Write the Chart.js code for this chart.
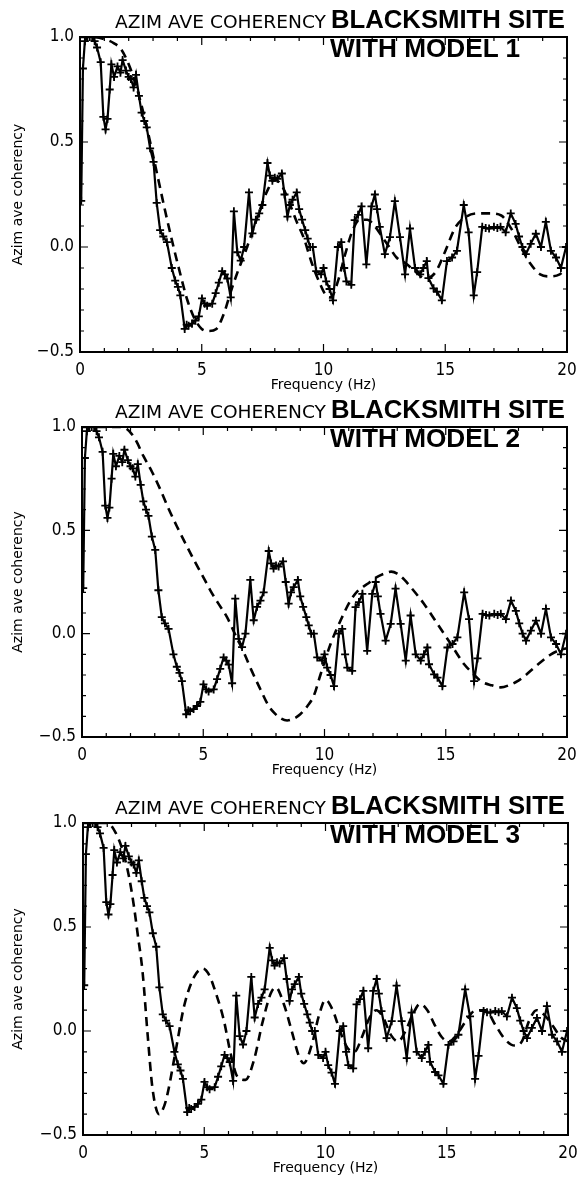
<!DOCTYPE html>
<html><head><meta charset="utf-8">
<script src="https://cdn.jsdelivr.net/npm/chart.js@4.4.0/dist/chart.umd.min.js"></script>
<style>
html,body{margin:0;padding:0;background:#fff;}
body{width:588px;height:1183px;position:relative;overflow:hidden;}
canvas{position:absolute;left:0;}
svg{position:absolute;left:0;top:0;pointer-events:none;}
</style></head><body>
<canvas id="c1" width="588" height="394" style="top:0px"></canvas>
<canvas id="c2" width="588" height="389" style="top:390px"></canvas>
<canvas id="c3" width="588" height="391" style="top:786px"></canvas>
<svg id="titles" width="588" height="1183" xmlns="http://www.w3.org/2000/svg"></svg>
<script>
// ---------------- data ----------------
const titleLeft = "AZIM AVE COHERENCY";
const titleRight = "BLACKSMITH SITE";
const modelLabels = ["WITH MODEL 1", "WITH MODEL 2", "WITH MODEL 3"];
const xAxisTitle = "Frequency (Hz)";
const yAxisTitle = "Azim ave coherency";
const xTickValues = [0, 5, 10, 15, 20];
const yTickValues = [-0.5, 0.0, 0.5, 1.0];

// observed coherency (solid line with + markers), same in all panels
const obsFreq = [0.05,0.12,0.2,0.3,0.4,0.5,0.6,0.7,0.85,0.96,1.05,1.13,1.22,1.29,1.4,1.54,1.66,1.75,1.89,2.0,2.09,2.2,2.3,2.42,2.53,2.64,2.74,2.88,3.02,3.15,3.29,3.42,3.57,3.77,3.91,4.02,4.12,4.3,4.38,4.46,4.6,4.74,4.88,5.01,5.12,5.22,5.43,5.57,5.7,5.84,5.95,6.05,6.19,6.32,6.46,6.6,6.74,6.94,7.08,7.22,7.36,7.49,7.7,7.8,7.9,8.0,8.11,8.29,8.4,8.52,8.62,8.73,8.9,9.0,9.12,9.25,9.35,9.45,9.56,9.7,9.9,10.0,10.11,10.25,10.39,10.59,10.73,10.85,10.94,11.14,11.28,11.42,11.56,11.76,11.97,12.11,12.2,12.31,12.52,12.73,12.93,13.14,13.35,13.55,13.76,13.97,14.1,14.24,14.31,14.52,14.66,14.86,15.07,15.28,15.48,15.76,15.96,16.17,16.31,16.52,16.66,16.8,17.0,17.14,17.27,17.48,17.69,17.89,18.03,18.17,18.31,18.51,18.72,18.93,19.13,19.34,19.55,19.75,19.96];
const obsCoh = [0.22,0.85,0.98,1.0,1.0,1.0,0.98,0.95,0.88,0.62,0.56,0.61,0.75,0.87,0.81,0.86,0.83,0.89,0.84,0.81,0.8,0.76,0.82,0.72,0.64,0.6,0.57,0.47,0.405,0.21,0.08,0.05,0.023,-0.1,-0.16,-0.19,-0.23,-0.39,-0.37,-0.375,-0.365,-0.35,-0.33,-0.245,-0.27,-0.28,-0.27,-0.22,-0.17,-0.115,-0.13,-0.15,-0.24,0.17,-0.025,-0.065,0.0,0.26,0.065,0.13,0.16,0.2,0.4,0.34,0.315,0.33,0.325,0.35,0.25,0.145,0.2,0.225,0.26,0.18,0.13,0.08,0.04,0.0,0.0,-0.115,-0.13,-0.1,-0.164,-0.2,-0.254,0.0,0.023,-0.1,-0.164,-0.18,0.128,0.153,0.193,-0.083,0.193,0.25,0.18,0.096,-0.034,0.047,0.218,0.047,-0.13,0.088,-0.1,-0.13,-0.1,-0.067,-0.148,-0.197,-0.213,-0.254,-0.067,-0.05,-0.018,0.2,0.07,-0.23,-0.12,0.096,0.09,0.088,0.096,0.09,0.096,0.07,0.16,0.11,0.05,0.0,-0.034,0.015,0.063,0.0,0.12,-0.018,-0.05,-0.1,0.0];

// model curves (dashed)
const model1Freq = [0,0.5,1.0,1.4,1.7,2.0,2.3,2.6,2.9,3.2,3.5,3.8,4.1,4.4,4.7,5.0,5.3,5.6,5.9,6.2,6.5,6.8,7.1,7.4,7.7,8.0,8.3,8.6,8.9,9.2,9.5,9.8,10.1,10.3,10.6,10.9,11.2,11.5,11.8,12.1,12.4,12.7,13.0,13.4,13.8,14.2,14.6,15.0,15.4,15.8,16.3,16.8,17.3,17.7,18.1,18.5,18.9,19.3,19.7,20];
const model1Coh = [1.0,1.0,0.99,0.97,0.94,0.87,0.77,0.64,0.49,0.33,0.17,0.02,-0.12,-0.25,-0.34,-0.39,-0.4,-0.39,-0.32,-0.21,-0.11,-0.02,0.08,0.18,0.27,0.32,0.29,0.21,0.12,0.04,-0.07,-0.16,-0.23,-0.24,-0.16,-0.03,0.08,0.13,0.13,0.1,0.05,0.0,-0.05,-0.08,-0.12,-0.15,-0.12,-0.02,0.09,0.14,0.16,0.16,0.15,0.09,0.0,-0.08,-0.13,-0.14,-0.13,-0.1];
const model2Freq = [0,0.5,1.0,1.5,1.85,2.2,2.53,2.9,3.22,3.55,3.91,4.25,4.6,4.95,5.29,5.6,5.98,6.3,6.67,7.0,7.36,7.65,7.9,8.2,8.46,8.75,9.0,9.3,9.56,9.83,10.25,10.66,11.07,11.4,11.76,12.1,12.45,12.75,13.0,13.3,13.55,14.1,14.66,15.21,15.76,16.1,16.45,16.9,17.27,17.6,17.96,18.3,18.65,19.0,19.34,19.7,20];
const model2Coh = [1.0,1.0,1.0,1.0,0.99,0.94,0.86,0.78,0.7,0.61,0.52,0.44,0.36,0.285,0.21,0.15,0.08,0.0,-0.09,-0.18,-0.27,-0.34,-0.38,-0.41,-0.42,-0.41,-0.39,-0.35,-0.3,-0.2,-0.05,0.063,0.16,0.21,0.24,0.27,0.29,0.3,0.29,0.26,0.226,0.145,0.047,-0.05,-0.148,-0.19,-0.23,-0.25,-0.26,-0.25,-0.23,-0.2,-0.164,-0.13,-0.1,-0.08,-0.07];
const model3Freq = [0,0.5,1.0,1.36,1.63,1.9,2.1,2.25,2.46,2.66,2.87,3.14,3.35,3.49,3.83,4.17,4.58,4.95,5.2,5.4,5.81,6.09,6.37,6.7,7.05,7.4,7.74,7.95,8.28,8.63,8.9,9.1,9.45,9.72,10.0,10.3,10.6,10.9,11.2,11.5,11.8,12.1,12.4,12.7,13.0,13.3,13.6,13.9,14.2,14.5,14.8,15.1,15.4,15.8,16.2,16.6,17.0,17.4,17.8,18.1,18.4,18.7,19.0,19.4,19.7,20];
const model3Coh = [1.0,1.0,1.0,0.95,0.87,0.74,0.6,0.47,0.28,-0.01,-0.28,-0.4,-0.36,-0.3,-0.09,0.12,0.26,0.3,0.27,0.21,0.05,-0.11,-0.22,-0.235,-0.14,0.04,0.18,0.21,0.13,-0.01,-0.12,-0.155,-0.06,0.07,0.15,0.1,0.0,-0.08,-0.1,-0.03,0.06,0.1,0.06,-0.02,-0.05,0.0,0.08,0.13,0.1,0.03,-0.03,-0.05,-0.02,0.05,0.1,0.1,0.03,-0.04,-0.07,-0.05,0.05,0.1,0.08,0.02,-0.03,-0.05];

// ---------------- layout (not data) ----------------
const panels = [
  {id:'c1', canvasTop:0,   canvasH:394, left:80, right:567, top:37,  bottom:352, mf:model1Freq, mc:model1Coh, label:modelLabels[0]},
  {id:'c2', canvasTop:390, canvasH:389, left:82, right:567, top:427, bottom:737, mf:model2Freq, mc:model2Coh, label:modelLabels[1]},
  {id:'c3', canvasTop:786, canvasH:391, left:83, right:568, top:823, bottom:1135, mf:model3Freq, mc:model3Coh, label:modelLabels[2]}
];

const pts = (xs, ys) => xs.map((x, i) => ({x, y: ys[i]}));
const numFont = '"Liberation Sans Narrow","DejaVu Sans Condensed","Liberation Sans",sans-serif';

const frameTicks = {
  id: 'frameTicks',
  afterDatasetsDraw(chart) {
    const {ctx, chartArea: a, scales: {x, y}} = chart;
    ctx.save();
    ctx.strokeStyle = '#000';
    ctx.lineWidth = 2;
    ctx.strokeRect(a.left, a.top, a.right - a.left, a.bottom - a.top);
    ctx.lineWidth = 1.2;
    ctx.beginPath();
    for (let k = 0; k <= 20; k++) {
      const px = x.getPixelForValue(k);
      const L = (k % 5 === 0) ? 8 : 4;
      ctx.moveTo(px, a.bottom); ctx.lineTo(px, a.bottom - L);
      ctx.moveTo(px, a.top); ctx.lineTo(px, a.top + L);
    }
    for (let k = -5; k <= 10; k++) {
      const py = y.getPixelForValue(k / 10);
      const L = (k % 5 === 0) ? 8 : 4;
      ctx.moveTo(a.left, py); ctx.lineTo(a.left + L, py);
      ctx.moveTo(a.right, py); ctx.lineTo(a.right - L, py);
    }
    ctx.stroke();
    ctx.restore();
  }
};

panels.forEach(p => {
  const xH = p.canvasTop + p.canvasH - p.bottom;
  new Chart(document.getElementById(p.id), {
    type: 'line',
    data: {
      datasets: [
        {
          data: pts(obsFreq, obsCoh),
          borderColor: '#000', borderWidth: 2.2, tension: 0,
          pointStyle: 'cross', pointRadius: 4, pointBorderWidth: 1.8,
          pointBorderColor: '#000', pointBackgroundColor: '#000'
        },
        {
          data: pts(p.mf, p.mc),
          borderColor: '#000', borderWidth: 2.6, borderDash: [9, 6],
          cubicInterpolationMode: 'monotone', pointRadius: 0
        }
      ]
    },
    options: {
      responsive: false, animation: false, devicePixelRatio: 1,
      layout: {padding: {top: p.top - p.canvasTop, right: 588 - p.right, bottom: 0, left: 0}},
      plugins: {legend: {display: false}, tooltip: {enabled: false}},
      scales: {
        x: {
          type: 'linear', min: 0, max: 20,
          afterFit: s => { s.height = xH; },
          afterBuildTicks: s => { s.ticks = xTickValues.map(v => ({value: v})); },
          grid: {display: false, drawTicks: false},
          border: {display: false},
          ticks: {color: '#000', padding: 8, maxRotation: 0, font: {family: numFont, size: 17},
                  callback: v => String(v)},
          title: {display: true, text: xAxisTitle, color: '#000',
                  font: {family: '"DejaVu Sans",sans-serif', size: 14}, padding: {top: 0, bottom: 0}}
        },
        y: {
          type: 'linear', min: -0.5, max: 1.0,
          afterFit: s => { s.width = p.left; },
          afterBuildTicks: s => { s.ticks = yTickValues.map(v => ({value: v})); },
          grid: {display: false, drawTicks: false},
          border: {display: false},
          ticks: {color: '#000', padding: 6, font: {family: numFont, size: 17},
                  callback: v => v.toFixed(1).replace('-', '\u2212')},
          title: {display: true, text: yAxisTitle, color: '#000',
                  font: {family: '"DejaVu Sans",sans-serif', size: 14}, padding: {top: 10, bottom: 0}}
        }
      }
    },
    plugins: [frameTicks]
  });
});

// titles as real SVG text
const svg = document.getElementById('titles');
const NS = 'http://www.w3.org/2000/svg';
function addText(str, x, y, len, size, weight, family) {
  const t = document.createElementNS(NS, 'text');
  t.setAttribute('x', x); t.setAttribute('y', y);
  t.setAttribute('textLength', len); t.setAttribute('lengthAdjust', 'spacingAndGlyphs');
  t.setAttribute('font-size', size); t.setAttribute('font-weight', weight);
  t.setAttribute('font-family', family); t.setAttribute('fill', '#000');
  t.textContent = str;
  svg.appendChild(t);
}
panels.forEach(p => {
  addText(titleLeft, 115, p.top - 9, 211, 17, 'normal', 'DejaVu Sans, sans-serif');
  addText(titleRight, 331, p.top - 9, 234, 26, 'bold', 'Liberation Sans, Arial, sans-serif');
  addText(p.label, 330, p.top + 20, 190, 26, 'bold', 'Liberation Sans, Arial, sans-serif');
});
</script>
</body></html>
